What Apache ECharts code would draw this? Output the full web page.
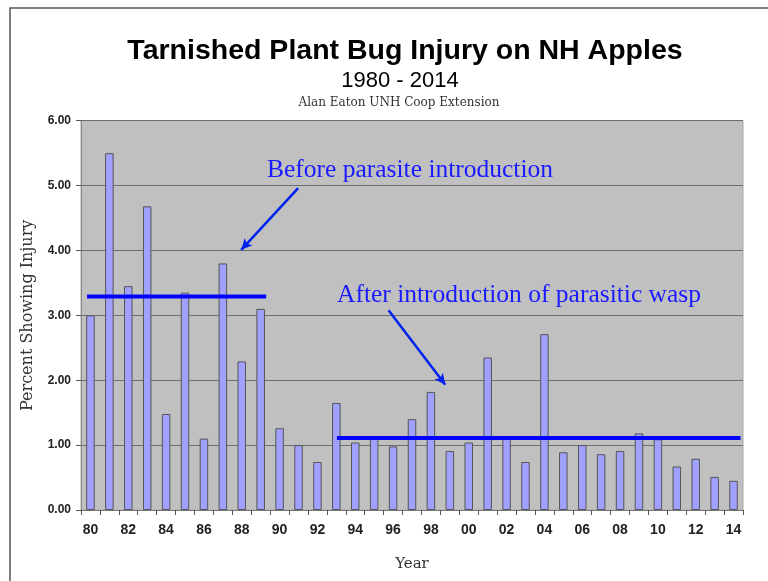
<!DOCTYPE html>
<html><head><meta charset="utf-8">
<script src="https://cdn.jsdelivr.net/npm/echarts@6/dist/echarts.min.js"></script>
<style>html,body{margin:0;padding:0;background:#fff;}#c{width:768px;height:581px;}</style>
</head><body><div id="c"></div>
<script>
const years = ['80','81','82','83','84','85','86','87','88','89','90','91','92','93','94','95','96','97','98','99','00','01','02','03','04','05','06','07','08','09','10','11','12','13','14'];
const injury = [3.00,5.50,3.45,4.68,1.48,3.35,1.10,3.80,2.29,3.10,1.26,1.00,0.74,1.65,1.04,1.10,0.98,1.40,1.82,0.91,1.04,2.35,1.10,0.74,2.71,0.89,1.00,0.86,0.91,1.18,1.09,0.67,0.79,0.51,0.45];
const yTicks = [0,1,2,3,4,5,6];
// average lines: [startPos, endPos, value] in category-position units
const beforeAvg = [0.32, 9.79, 3.29];
const afterAvg = [13.53, 34.87, 1.11];
// annotation arrows: [x1, y1, x2, y2]
const beforeArrow = [11.48, 4.96, 8.47, 4.01];
const afterArrow = [16.26, 3.08, 19.26, 1.93];

const chart = echarts.init(document.getElementById('c'));
chart.setOption({
  animation: false,
  backgroundColor: '#fff',
  grid: {left: 81, right: 25, top: 120.7, bottom: 71, show: true, backgroundColor: '#c0c0c0', borderColor: '#a8a8a8', borderWidth: 1},
  xAxis: [{
    type: 'category', data: years,
    name: 'Year', nameLocation: 'middle', nameGap: 47,
    nameTextStyle: {fontFamily: 'DejaVu Serif', fontSize: 15, color: '#333'},
    axisLine: {lineStyle: {color: '#777', width: 1}},
    axisTick: {show: true, interval: 0, length: 5, lineStyle: {color: '#555'}},
    axisLabel: {interval: 1, fontFamily: 'Liberation Sans', fontWeight: 'bold', fontSize: 14, color: '#222', margin: 13},
    splitLine: {show: false}
  }, {
    type: 'value', min: 0, max: 35, show: false
  }],
  yAxis: {
    type: 'value', min: 0, max: 6, interval: yTicks[1] - yTicks[0],
    name: 'Percent Showing Injury', nameLocation: 'middle', nameGap: 45, nameRotate: 90,
    nameTextStyle: {fontFamily: 'DejaVu Serif', fontSize: 16, color: '#333'},
    axisLine: {show: true, lineStyle: {color: '#888'}},
    axisTick: {show: true, length: 5, lineStyle: {color: '#555'}},
    axisLabel: {formatter: v => v.toFixed(2), fontFamily: 'Liberation Sans', fontWeight: 'bold', fontSize: 12, color: '#222', margin: 10},
    splitLine: {lineStyle: {color: '#6e6e6e', width: 1}}
  },
  series: [{
    type: 'bar', data: injury, barWidth: '45%',
    itemStyle: {color: '#a0a0ff', borderColor: '#555', borderWidth: 1}
  }, {
    type: 'line', xAxisIndex: 1, symbol: 'none',
    lineStyle: {color: '#0000ff', width: 4},
    data: [[beforeAvg[0], beforeAvg[2]], [beforeAvg[1], beforeAvg[2]]]
  }, {
    type: 'line', xAxisIndex: 1, symbol: 'none',
    lineStyle: {color: '#0000ff', width: 4},
    data: [[afterAvg[0], afterAvg[2]], [afterAvg[1], afterAvg[2]]],
    markLine: {
      silent: true, symbol: ['none', 'arrow'], symbolSize: [8, 11],
      lineStyle: {color: '#0022ee', width: 2.5, type: 'solid'},
      label: {show: false},
      data: [
        [{coord: [beforeArrow[0], beforeArrow[1]]}, {coord: [beforeArrow[2], beforeArrow[3]]}],
        [{coord: [afterArrow[0], afterArrow[1]]}, {coord: [afterArrow[2], afterArrow[3]]}]
      ]
    }
  }],
  graphic: [
    {type: 'polyline', shape: {points: [[10, 581], [10, 8], [768, 8]]}, style: {stroke: '#555', lineWidth: 1.5, fill: null}},
    {type: 'text', x: 405, y: 51, style: {text: 'Tarnished Plant Bug Injury on NH Apples', font: 'bold 28.5px "Liberation Sans"', fill: '#000', textAlign: 'center', textVerticalAlign: 'middle'}},
    {type: 'text', x: 400, y: 81, style: {text: '1980 - 2014', font: '22px "Liberation Sans"', fill: '#000', textAlign: 'center', textVerticalAlign: 'middle'}},
    {type: 'text', x: 399, y: 103, style: {text: 'Alan Eaton UNH Coop Extension', font: '12px "DejaVu Serif"', fill: '#333', textAlign: 'center', textVerticalAlign: 'middle'}},
    {type: 'text', x: 410, y: 170, style: {text: 'Before parasite introduction', font: '25.5px "Liberation Serif"', fill: '#1a1aff', textAlign: 'center', textVerticalAlign: 'middle'}},
    {type: 'text', x: 519, y: 295, style: {text: 'After introduction of parasitic wasp', font: '25.5px "Liberation Serif"', fill: '#1a1aff', textAlign: 'center', textVerticalAlign: 'middle'}}
  ]
});
</script></body></html>
